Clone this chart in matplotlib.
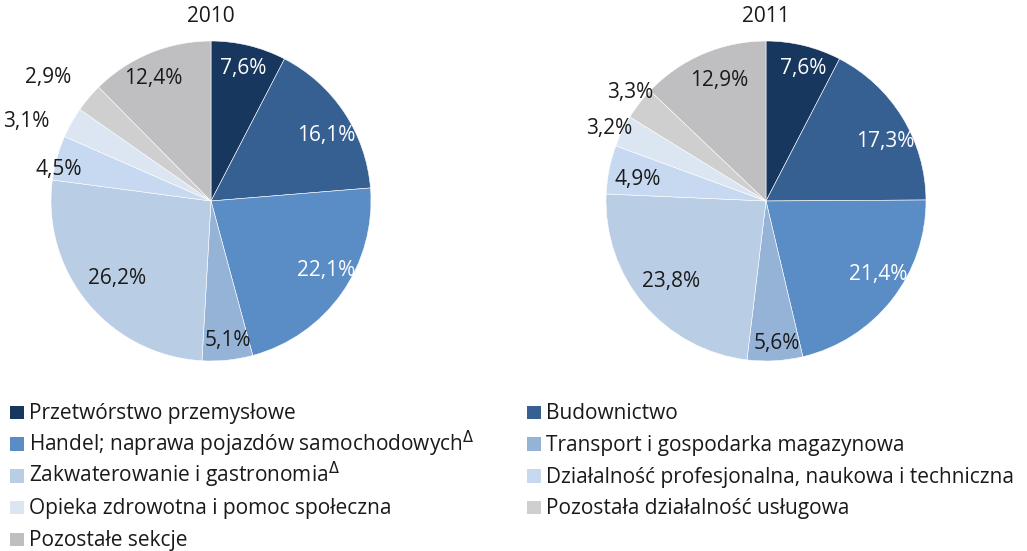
import matplotlib
matplotlib.use("Agg")
import matplotlib.pyplot as plt
from matplotlib.patches import Rectangle
import numpy as np

plt.rcParams['font.family'] = ['Open Sans', 'DejaVu Sans']
plt.rcParams['mathtext.fontset'] = 'dejavusans'

categories = [
    "Przetwórstwo przemysłowe",
    "Budownictwo",
    "Handel; naprawa pojazdów samochodowych$^{\\Delta}$",
    "Transport i gospodarka magazynowa",
    "Zakwaterowanie i gastronomia$^{\\Delta}$",
    "Działalność profesjonalna, naukowa i techniczna",
    "Opieka zdrowotna i pomoc społeczna",
    "Pozostała działalność usługowa",
    "Pozostałe sekcje",
]
years = ["2010", "2011"]
values_2010 = [7.6, 16.1, 22.1, 5.1, 26.2, 4.5, 3.1, 2.9, 12.4]
values_2011 = [7.6, 17.3, 21.4, 5.6, 23.8, 4.9, 3.2, 3.3, 12.9]

colors = ["#17375E", "#376092", "#5A8CC6", "#95B3D7", "#B9CDE5",
          "#C6D9F1", "#DCE6F2", "#CFCFD0", "#BFBFC1"]
text_colors = ["white", "white", "white", "#1a1a1a", "#1a1a1a",
               "#1a1a1a", "#1a1a1a", "#1a1a1a", "#1a1a1a"]
label_dist = [
    [0.85, 0.83, 0.84, 0.88, 0.76, 0.97, 1.26, 1.28, 0.85],
    [0.86, 0.83, 0.84, 0.89, 0.78, 0.81, 1.08, 1.09, 0.81],
]
label_nudge = [
    [0, -4, 4, 1, 0, 4, 6, 3, 3],
    [-2, -5, 5, 1, 0, 2, 1, -1, -2],
]

W, H = 1027, 551
FS = 15
TXT = "#1a1a1a"
fig = plt.figure(figsize=(W / 100, H / 100), dpi=100)
R = 160
centers = [(211, 201), (766, 201)]

for k, (vals, yr) in enumerate(zip([values_2010, values_2011], years)):
    cx, cy = centers[k]
    ax = fig.add_axes([(cx - R) / W, (H - cy - R) / H, 2 * R / W, 2 * R / H])
    wedges, _ = ax.pie(vals, colors=colors, startangle=90, counterclock=False,
                       radius=1.0, wedgeprops=dict(edgecolor="white", linewidth=0.4))
    ax.set_xlim(-1, 1)
    ax.set_ylim(-1, 1)
    ax.set_aspect("equal")
    ax.axis("off")
    for i, w in enumerate(wedges):
        ang = np.deg2rad((w.theta1 + w.theta2) / 2 + label_nudge[k][i])
        d = label_dist[k][i]
        lbl = f"{vals[i]:.1f}%".replace(".", ",")
        ax.text(d * np.cos(ang), d * np.sin(ang), lbl, ha="center", va="center",
                fontsize=FS, color=text_colors[i], clip_on=False)
    fig.text(cx / W, 1 - 17 / H, yr, ha="center", va="center", fontsize=FS,
             color=TXT)

# legend (two columns, row-major order like the original)
row_base = [419, 450.75, 482.5, 514.25, 546]
col_sq_x = [10, 527]
col_tx_x = [29, 546]
sq = 13.5
for i, (name, c) in enumerate(zip(categories, colors)):
    col = i % 2
    row = i // 2
    yb = row_base[row]
    fig.add_artist(Rectangle((col_sq_x[col] / W, (H - yb) / H), sq / W, sq / H,
                             transform=fig.transFigure, facecolor=c,
                             edgecolor="none"))
    fig.text(col_tx_x[col] / W, (H - yb) / H, name, ha="left", va="baseline",
             fontsize=FS, color=TXT)

fig.savefig("out.png", dpi=100)
